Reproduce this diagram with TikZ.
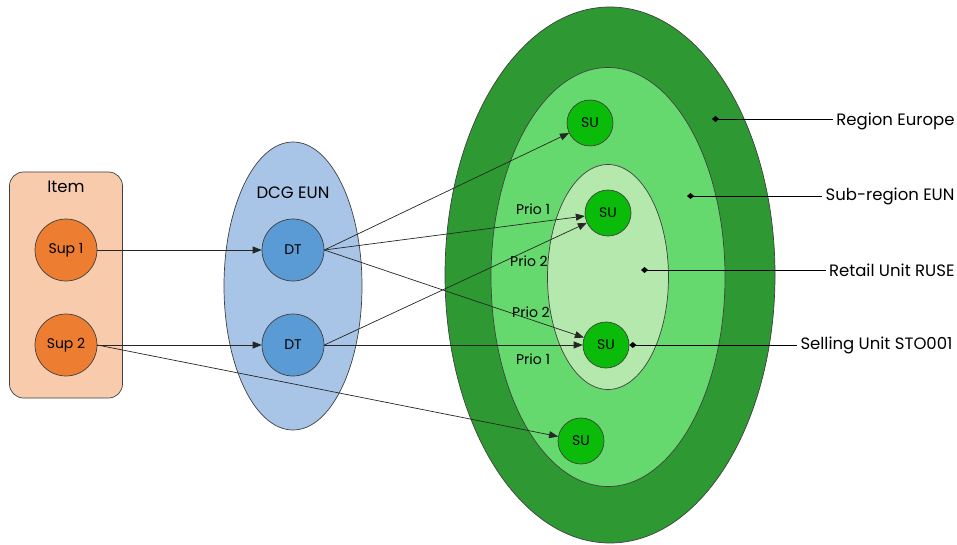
\documentclass[tikz,border=0pt]{standalone}
\usepackage{fontspec}
\setmainfont{Poppins}
\usepackage{tikz}
\usetikzlibrary{arrows.meta,shapes.geometric}

\definecolor{outergreen}{RGB}{46,153,51}
\definecolor{midgreen}{RGB}{102,217,110}
\definecolor{innergreen}{RGB}{180,232,173}
\definecolor{sugreen}{RGB}{10,187,10}
\definecolor{dtblue}{RGB}{91,155,213}
\definecolor{dcgblue}{RGB}{168,196,230}
\definecolor{itemfill}{RGB}{248,203,173}
\definecolor{supfill}{RGB}{237,125,49}

\begin{document}
\begin{tikzpicture}[
  x=1pt,
  y=-1pt,
  font=\fontsize{16.5}{19}\selectfont,
  edge/.style={draw=black!75, line width=0.7pt},
  small/.style={font=\fontsize{14}{16}\selectfont},
  zone/.style={edge, ellipse, inner sep=0pt},
  unit/.style={edge, circle, inner sep=0pt, small},
  sup/.style={unit, fill=supfill, minimum size=62pt},
  dt/.style={unit, fill=dtblue, minimum size=62pt},
  su/.style={unit, fill=sugreen, minimum size=46pt},
  link/.style={black!85, line width=0.7pt, -{Triangle[length=9pt,width=7pt]}},
  note/.style={black, line width=0.7pt, {Diamond[length=7pt,width=6pt]}-}
]
  \useasboundingbox (0,0) rectangle (957,545);

  % item with its suppliers
  \node[edge, rounded corners=14pt, fill=itemfill, minimum width=113pt, minimum height=226pt] (item) at (66,285) {};
  \node (itemlbl) at (66,187) {Item};
  \node[sup] (sup1) at (66,250) {Sup 1};
  \node[sup] (sup2) at (66,345) {Sup 2};

  % distribution centre group
  \node[zone, fill=dcgblue, minimum width=138pt, minimum height=288pt] (dcg) at (293,286) {};
  \node (dcglbl) at (293,193) {DCG EUN};
  \node[dt] (dt1) at (293,250) {DT};
  \node[dt] (dt2) at (293,345) {DT};

  % nested regions
  \node[zone, fill=outergreen, minimum width=330pt, minimum height=536pt] (region) at (610,275) {};
  \node[zone, fill=midgreen, minimum width=234pt, minimum height=419pt] (subregion) at (608,277) {};
  \node[zone, fill=innergreen, minimum width=121pt, minimum height=225pt] (retail) at (608,277) {};

  \node[su] (su1) at (590,123) {SU};
  \node[su] (su2) at (608,213) {SU};
  \node[su] (su3) at (606,345) {SU};
  \node[su] (su4) at (581,441) {SU};

  % flows
  \draw[link] (sup1.east) -- (dt1.west);
  \draw[link] (sup2.east) -- (dt2.west);
  \draw[link] (sup2.east) -- (su4);
  \draw[link] (dt1.east) -- (su1);
  \draw[link] (dt1.east) -- (su2);
  \draw[link] (dt1.east) -- (su3);
  \draw[link] (dt2.east) -- (su2);
  \draw[link] (dt2.east) -- (su3.west);

  \node[small] (p1a) at (533,209) {Prio 1};
  \node[small] (p2a) at (529,261) {Prio 2};
  \node[small] (p2b) at (531,312) {Prio 2};
  \node[small] (p1b) at (533,359) {Prio 1};

  % legend
  \coordinate (regdot) at (712,119);
  \coordinate (subdot) at (687,196);
  \coordinate (retdot) at (641,270);
  \node[anchor=east] (reglbl) at (958,121) {Region Europe};
  \node[anchor=east] (sublbl) at (958,196) {Sub-region EUN};
  \node[anchor=east] (retlbl) at (958,270) {Retail Unit RUSE};
  \node[anchor=east] (sellbl) at (956,345) {Selling Unit STO001};
  \draw[note] (regdot) -- (regdot -| reglbl.west);
  \draw[note] (subdot) -- (subdot -| sublbl.west);
  \draw[note] (retdot) -- (retdot -| retlbl.west);
  \draw[note] (su3.east) -- (su3.east -| sellbl.west);
\end{tikzpicture}
\end{document}
